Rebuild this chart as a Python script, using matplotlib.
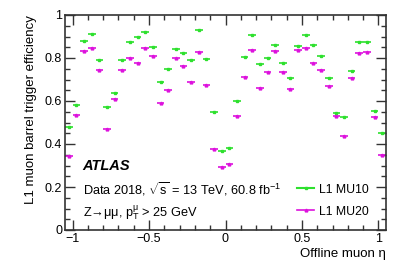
import numpy as np
import matplotlib
matplotlib.use("Agg")
import matplotlib.pyplot as plt
from matplotlib.lines import Line2D
from matplotlib.ticker import MultipleLocator, FuncFormatter

plt.rcParams["font.family"] = ["Liberation Sans", "DejaVu Sans"]
plt.rcParams["mathtext.fontset"] = "custom"
plt.rcParams["mathtext.rm"] = "Liberation Sans"
plt.rcParams["mathtext.it"] = "Liberation Sans:italic"

# 42 eta bins of width 0.05 from -1.05 to 1.05
eta_lo = -1.05
bin_width = 0.05
n_bins = 42

eff_mu10 = [0.478, 0.580, 0.878, 0.912, 0.789, 0.574, 0.636, 0.789, 0.874, 0.899,
            0.921, 0.853, 0.690, 0.747, 0.840, 0.825, 0.792, 0.929, 0.795, 0.547,
            0.367, 0.380, 0.601, 0.806, 0.907, 0.771, 0.802, 0.862, 0.777, 0.709,
            0.856, 0.905, 0.859, 0.808, 0.707, 0.544, 0.526, 0.738, 0.873, 0.873,
            0.555, 0.450]
eff_mu20 = [0.346, 0.536, 0.833, 0.848, 0.746, 0.470, 0.611, 0.744, 0.802, 0.778,
            0.847, 0.809, 0.589, 0.651, 0.798, 0.763, 0.688, 0.828, 0.673, 0.377,
            0.295, 0.307, 0.529, 0.713, 0.837, 0.660, 0.733, 0.832, 0.735, 0.656,
            0.837, 0.845, 0.775, 0.746, 0.668, 0.530, 0.439, 0.709, 0.822, 0.826,
            0.524, 0.349]
labels = ["L1 MU10", "L1 MU20"]

GREEN = "#2ee02e"
MAGENTA = "#dd11dd"

eta = eta_lo + bin_width * (np.arange(n_bins) + 0.5)

fig = plt.figure(figsize=(4.07, 2.75), dpi=100)
ax = fig.add_axes([65 / 407, 1 - 230 / 275, 321 / 407, 215 / 275])

ax.errorbar(eta, eff_mu10, xerr=bin_width / 2, yerr=0.003, fmt="s", ms=2.0,
            color=GREEN, ecolor=GREEN, elinewidth=1.2, capsize=0)
ax.errorbar(eta, eff_mu20, xerr=bin_width / 2, yerr=0.004, fmt="^", ms=2.0,
            color=MAGENTA, ecolor=MAGENTA, elinewidth=1.2, capsize=0)

ax.set_xlim(-1.05, 1.05)
ax.set_ylim(0, 1)
ax.xaxis.set_major_locator(MultipleLocator(0.5))
ax.xaxis.set_minor_locator(MultipleLocator(0.1))
ax.yaxis.set_major_locator(MultipleLocator(0.2))
ax.yaxis.set_minor_locator(MultipleLocator(0.05))


def fmt(v, _):
    s = f"{v:g}"
    if abs(v) < 1e-9:
        s = "0"
    return s.replace("-", "\u2212")


ax.xaxis.set_major_formatter(FuncFormatter(fmt))
ax.yaxis.set_major_formatter(FuncFormatter(fmt))
ax.tick_params(which="both", direction="in", top=True, right=True, labelsize=9,
               color="#333333", width=1.0)
ax.tick_params(which="major", length=7, pad=2)
ax.tick_params(which="minor", length=3.5)
for sp in ax.spines.values():
    sp.set_linewidth(1.2)
    sp.set_color("#333333")

ax.set_ylabel("L1 muon barrel trigger efficiency", loc="top", fontsize=9.5, labelpad=6)
ax.set_xlabel("Offline muon \u03b7", loc="right", fontsize=9.5, labelpad=2)

ax.text(0.055, 0.28, "ATLAS", transform=ax.transAxes, fontsize=10.5,
        fontweight="bold", fontstyle="italic")
ax.text(0.055, 0.165, r"Data 2018, $\sqrt{\rm s}$ = 13 TeV, 60.8 fb$^{-1}$",
        transform=ax.transAxes, fontsize=9.2)
ax.text(0.055, 0.06, "Z\u2192\u03bc\u03bc, p$_{\\rm T}^{\\rm \u03bc}$ > 25 GeV",
        transform=ax.transAxes, fontsize=9.2)

handles = [Line2D([], [], color=GREEN, lw=1.5, marker="s", ms=2.0),
           Line2D([], [], color=MAGENTA, lw=1.2, marker="^", ms=2.0)]
ax.legend(handles, labels, loc="upper left", bbox_to_anchor=(0.722, 0.216),
          frameon=False, fontsize=8.8, handlelength=1.45, handletextpad=0.4,
          labelspacing=0.82, borderpad=0, borderaxespad=0)

fig.savefig("out.png", dpi=100)
